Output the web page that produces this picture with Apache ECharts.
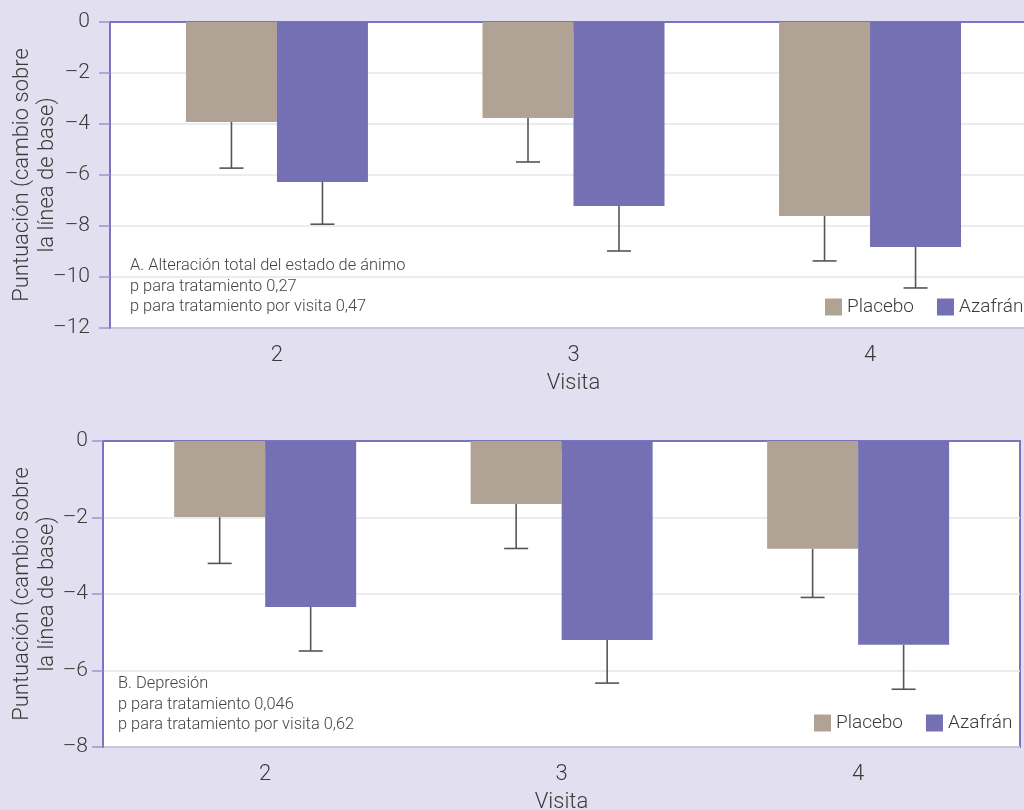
<!DOCTYPE html>
<html>
<head>
<meta charset="utf-8">
<script src="https://cdn.jsdelivr.net/npm/echarts@6/dist/echarts.min.js"></script>
<style>
html,body{margin:0;padding:0;background:#e2e0f0;}
#c{width:1024px;height:810px;}
</style>
</head>
<body>
<div id="c"></div>
<script>
const visits = [2, 3, 4];
const seriesNames = ['Placebo', 'Azafrán'];

// Panel A: Alteración total del estado de ánimo
const aPlacebo = [-3.92, -3.76, -7.61];
const aPlaceboErr = [1.81, 1.73, 1.76];
const aAzafran = [-6.27, -7.22, -8.82];
const aAzafranErr = [1.66, 1.76, 1.61];
const aTicks = [0, -2, -4, -6, -8, -10, -12];
const aNote = ['A. Alteración total del estado de ánimo', 'p para tratamiento 0,27', 'p para tratamiento por visita 0,47'];

// Panel B: Depresión
const bPlacebo = [-1.99, -1.65, -2.82];
const bPlaceboErr = [1.21, 1.16, 1.27];
const bAzafran = [-4.34, -5.20, -5.33];
const bAzafranErr = [1.15, 1.13, 1.16];
const bTicks = [0, -2, -4, -6, -8];
const bNote = ['B. Depresión', 'p para tratamiento 0,046', 'p para tratamiento por visita 0,62'];

const yName = 'Puntuación (cambio sobre\nla línea de base)';
const xName = 'Visita';

const FONT = 'Roboto';
const TXT = '#3a3a3a';
const PURPLE = '#7a74bf';
const C_PLACEBO = '#b0a396';
const C_AZAFRAN = '#7570b3';
const BAR_W = 91;

const chart = echarts.init(document.getElementById('c'), null, {renderer: 'canvas'});

function pairs(vals) { return visits.map((v, i) => [v, vals[i]]); }
function errData(vals, errs, side) { return visits.map((v, i) => [v, vals[i], errs[i], side]); }

function errSeries(gi, vals, errs, side) {
  return {
    type: 'custom', xAxisIndex: gi, yAxisIndex: gi, z: 5, silent: true,
    data: errData(vals, errs, side),
    renderItem: function (params, api) {
      const x = api.value(0), v = api.value(1), e = api.value(2), s = api.value(3);
      const p0 = api.coord([x, v]);
      const p1 = api.coord([x, v - e]);
      const cx = p0[0] + s * BAR_W / 2;
      const st = {stroke: '#555', lineWidth: 1.6};
      return {type: 'group', children: [
        {type: 'line', shape: {x1: cx, y1: p0[1], x2: cx, y2: p1[1]}, style: st},
        {type: 'line', shape: {x1: cx - 12, y1: p1[1], x2: cx + 12, y2: p1[1]}, style: st}
      ]};
    }
  };
}

function xAxisCfg(gi, min, max) {
  return {
    gridIndex: gi, type: 'value', min: min, max: max,
    name: xName, nameLocation: 'middle', nameGap: 44, nameMoveOverlap: false,
    nameTextStyle: {fontFamily: FONT, fontWeight: 300, fontSize: 22, color: TXT},
    axisLine: {show: true, lineStyle: {color: PURPLE, width: 2}},
    axisTick: {show: true, customValues: visits, length: 10, lineStyle: {color: '#9a94d0', width: 1.5}},
    axisLabel: {customValues: visits, margin: 16, fontFamily: FONT, fontWeight: 300, fontSize: 22, color: TXT},
    splitLine: {show: false}
  };
}

function yAxisCfg(gi, ticks, margin, nameGap) {
  return {
    gridIndex: gi, type: 'value', min: ticks[ticks.length - 1], max: ticks[0], interval: 2,
    name: yName, nameLocation: 'middle', nameGap: nameGap, nameMoveOverlap: false,
    nameTextStyle: {fontFamily: FONT, fontWeight: 300, fontSize: 22, color: TXT, lineHeight: 25},
    axisLine: {show: true, lineStyle: {color: PURPLE, width: 2}},
    axisTick: {show: true, length: 11, lineStyle: {color: '#9a94d0', width: 1.5}},
    axisLabel: {margin: margin, fontFamily: FONT, fontWeight: 300, fontSize: 21, color: TXT,
      formatter: v => (v < 0 ? '\u2013' + Math.abs(v) : String(v))},
    splitLine: {show: true, lineStyle: {color: '#e6e6e6', width: 1.5}}
  };
}

function legendCfg(left, top) {
  return {
    data: seriesNames, left: left, top: top, width: 300, padding: 0, itemGap: 23,
    itemWidth: 17, itemHeight: 17, icon: 'rect', selectedMode: false,
    textStyle: {fontFamily: FONT, fontWeight: 300, fontSize: 19, color: TXT}
  };
}

function noteText(left, top, lines) {
  return {
    type: 'text', left: left, top: top, z: 10,
    style: {text: lines.join('\n'), font: '300 16.4px Roboto', fill: '#444', lineHeight: 20.5}
  };
}

chart.setOption({
  backgroundColor: '#e2e0f0',
  animation: false,
  grid: [
    {left: 110, top: 22, width: 927, height: 306, outerBoundsMode: 'none', containLabel: false, show: true, backgroundColor: '#ffffff', borderColor: PURPLE, borderWidth: 2},
    {left: 103, top: 441, width: 917, height: 306, outerBoundsMode: 'none', containLabel: false, show: true, backgroundColor: '#ffffff', borderColor: PURPLE, borderWidth: 2}
  ],
  xAxis: [xAxisCfg(0, 1.437, 4.563), xAxisCfg(1, 1.453, 4.546)],
  yAxis: [yAxisCfg(0, aTicks, 20, 50.5), yAxisCfg(1, bTicks, 15, 43.5)],
  legend: [legendCfg(825, 297.5), legendCfg(814, 713.5)],
  graphic: [noteText(130, 256, aNote), noteText(118, 674, bNote)],
  series: [
    {name: seriesNames[0], type: 'bar', xAxisIndex: 0, yAxisIndex: 0, barWidth: BAR_W, barGap: '0%', itemStyle: {color: C_PLACEBO}, data: pairs(aPlacebo)},
    {name: seriesNames[1], type: 'bar', xAxisIndex: 0, yAxisIndex: 0, barWidth: BAR_W, barGap: '0%', itemStyle: {color: C_AZAFRAN}, data: pairs(aAzafran)},
    {name: seriesNames[0], type: 'bar', xAxisIndex: 1, yAxisIndex: 1, barWidth: BAR_W, barGap: '0%', itemStyle: {color: C_PLACEBO}, data: pairs(bPlacebo)},
    {name: seriesNames[1], type: 'bar', xAxisIndex: 1, yAxisIndex: 1, barWidth: BAR_W, barGap: '0%', itemStyle: {color: C_AZAFRAN}, data: pairs(bAzafran)},
    errSeries(0, aPlacebo, aPlaceboErr, -1),
    errSeries(0, aAzafran, aAzafranErr, 1),
    errSeries(1, bPlacebo, bPlaceboErr, -1),
    errSeries(1, bAzafran, bAzafranErr, 1)
  ]
});
</script>
</body>
</html>
